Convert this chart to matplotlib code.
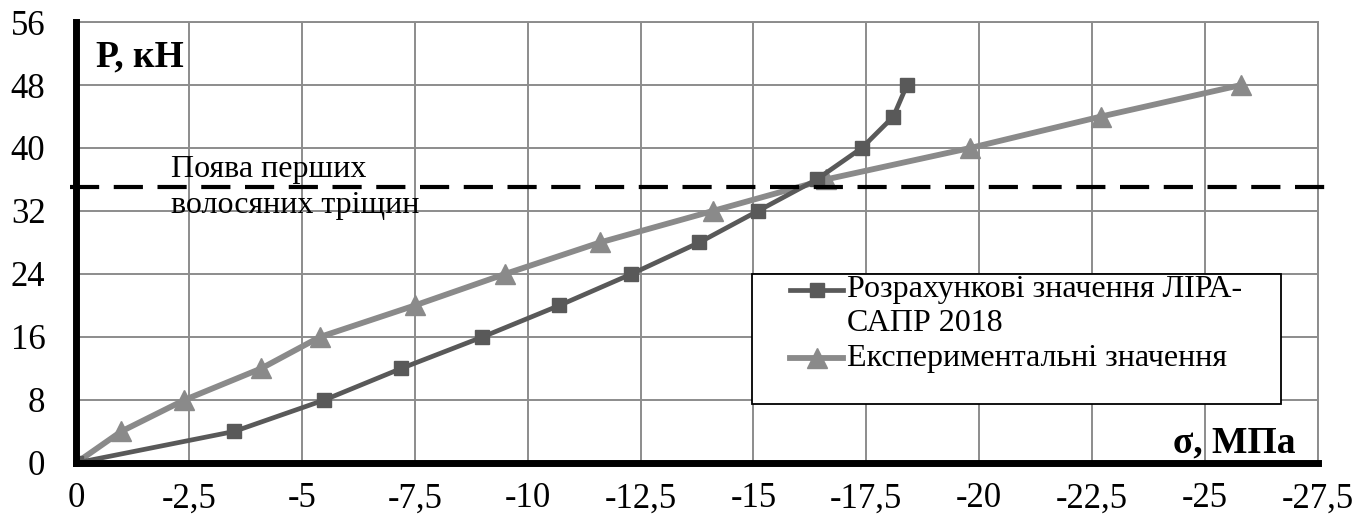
import matplotlib.pyplot as plt
from matplotlib.patches import Rectangle

plt.rcParams['font.family'] = ['Liberation Serif', 'DejaVu Serif']

# load levels, kN
load = [0, 4, 8, 12, 16, 20, 24, 28, 32, 36, 40, 44, 48]
# stresses, MPa
sigma_lira = [0, -3.5, -5.5, -7.2, -9.0, -10.7, -12.3, -13.8, -15.1, -16.4, -17.4, -18.1, -18.4]
sigma_exp = [0, -1.0, -2.4, -4.1, -5.4, -7.5, -9.5, -11.6, -14.1, -16.6, -19.8, -22.7, -25.8]
crack_load = 35

x_ticks = [0, -2.5, -5, -7.5, -10, -12.5, -15, -17.5, -20, -22.5, -25, -27.5]
y_ticks = [0, 8, 16, 24, 32, 40, 48, 56]

dark = '#595959'
light = '#8a8a8a'
grid_c = '#8c8c8c'

fig = plt.figure(figsize=(13.72, 5.29), dpi=100)
ax = fig.add_axes([0.0554, 0.1248, 0.9052, 0.8336])

ax.plot(sigma_lira, load, color=dark, lw=3.4, marker='s', ms=10, zorder=4)
ax.plot(sigma_exp, load, color=light, lw=4.2, marker='^', ms=14, zorder=3)

# first hairline cracks
ax.plot([0.13, -27.95], [crack_load, crack_load], color='black', lw=3,
        linestyle=(0, (7, 3.5)), clip_on=False, zorder=5)
ax.text(-2.1, crack_load + 0.4, 'Поява перших', fontsize=23, va='bottom')
ax.text(-2.1, crack_load - 0.4, 'волосяних тріщин', fontsize=23, va='top')

ax.set_xlim(0, -27.5)
ax.set_ylim(0, 56)
ax.set_xticks(x_ticks)
ax.set_xticklabels([f'{v:g}'.replace('.', ',') for v in x_ticks])
ax.set_yticks(y_ticks)
ax.tick_params(length=0, labelsize=25)
ax.tick_params(axis='x', pad=14)
ax.tick_params(axis='y', pad=22)
ax.grid(True, color=grid_c, lw=1.4)
ax.set_axisbelow(True)

for side in ['left', 'bottom']:
    ax.spines[side].set_linewidth(5)
    ax.spines[side].set_color('black')
    ax.spines[side].set_zorder(6)
for side in ['top', 'right']:
    ax.spines[side].set_linewidth(1.4)
    ax.spines[side].set_color(grid_c)

ax.text(0.016, 0.96, 'Р, кН', transform=ax.transAxes, fontsize=27,
        fontweight='bold', ha='left', va='top')
ax.text(0.982, 0.023, 'σ, МПа', transform=ax.transAxes, fontsize=27,
        fontweight='bold', ha='right', va='baseline')

# legend box
ax.add_patch(Rectangle((0.544, 0.1338), 0.4266, 0.2948, transform=ax.transAxes,
                       facecolor='white', edgecolor='black', lw=1.3, zorder=7))
ax.plot([0.5749, 0.6176], [0.3923, 0.3923], transform=ax.transAxes, color=dark, lw=3.4, zorder=8)
ax.plot([0.5963], [0.3923], transform=ax.transAxes, color=dark, marker='s', ms=10, zorder=9)
ax.plot([0.5749, 0.6176], [0.238, 0.238], transform=ax.transAxes, color=light, lw=4.2, zorder=8)
ax.plot([0.5963], [0.238], transform=ax.transAxes, color=light, marker='^', ms=14, zorder=9)
ax.text(0.6208, 0.3923, 'Розрахункові значення ЛІРА-', transform=ax.transAxes,
        fontsize=23, va='center', zorder=9)
ax.text(0.6208, 0.3157, 'САПР 2018', transform=ax.transAxes,
        fontsize=23, va='center', zorder=9)
ax.text(0.6208, 0.238, 'Експериментальні значення', transform=ax.transAxes,
        fontsize=23, va='center', zorder=9)

fig.savefig('out.png', dpi=100)
